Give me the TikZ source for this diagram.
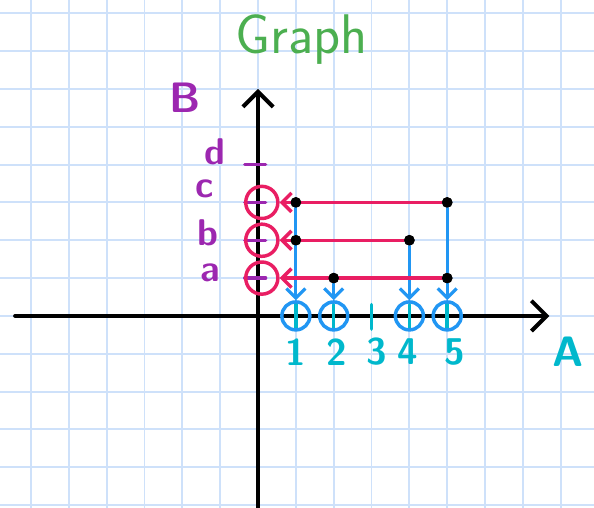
\documentclass[tikz,border=0pt]{standalone}
\usepackage{tikz}
\usetikzlibrary{arrows.meta}
\definecolor{gridblue}{RGB}{206,225,250}
\definecolor{penpurple}{RGB}{156,39,176}
\definecolor{penpink}{RGB}{233,30,99}
\definecolor{penblue}{RGB}{33,150,243}
\definecolor{pencyan}{RGB}{0,184,204}
\definecolor{pengreen}{RGB}{76,175,80}
\tikzset{
  gridline/.style={draw=gridblue, line width=1.4pt},
  axisline/.style={draw=black, line width=3pt, line cap=round,
                   -{Straight Barb[length=4mm,width=8mm]}},
  ytickmark/.style={draw=penpurple, line width=2.6pt, line cap=round},
  xtickmark/.style={draw=pencyan, line width=2.6pt, line cap=round},
  dot/.style={circle, fill=black, inner sep=0pt, minimum size=2.8mm},
  pinkring/.style={circle, draw=penpink, line width=2.6pt, minimum size=8.5mm, inner sep=0pt},
  bluering/.style={circle, draw=penblue, line width=2.6pt, minimum size=7.4mm, inner sep=0pt},
  pinkarr/.style={draw=penpink, line width=2.6pt, line cap=round,
                  -{Straight Barb[length=2.5mm,width=5mm]}},
  bluearr/.style={draw=penblue, line width=2.4pt, line cap=round,
                  -{Straight Barb[length=2.5mm,width=5mm]}},
  ylbl/.style={text=penpurple, font=\sffamily\bfseries\fontsize{28}{28}\selectfont, inner sep=0pt},
  xlbl/.style={text=pencyan, font=\sffamily\bfseries\fontsize{28}{28}\selectfont, inner sep=0pt},
}
\begin{document}
\begin{tikzpicture}
  \useasboundingbox (-6.82,-5.07) rectangle (8.88,8.35);
  \fill[white] (-6.82,-5.07) rectangle (8.88,8.35);
  \draw[gridline] (-6.82,-5.07) grid (8.88,8.35);

  \draw[axisline] (-6.42,0) -- (7.7,0);
  \draw[axisline] (0,-5.07) -- (0,6);
  \foreach \k in {1,...,4} \draw[ytickmark] (-0.35,\k) -- (0.2,\k);
  \foreach \k in {1,...,5} \draw[xtickmark] (\k,0.3) -- (\k,-0.35);

  \node[text=pengreen, font=\sffamily\fontsize{42}{42}\selectfont] (title) at (1.15,7.3) {Graph};
  \node[ylbl, font=\sffamily\bfseries\fontsize{32}{32}\selectfont] (bname) at (-1.94,5.76) {B};
  \node[ylbl] (ld) at (-1.14,4.33) {d};
  \node[ylbl] (lc) at (-1.4,3.35) {c};
  \node[ylbl] (lb) at (-1.32,2.2) {b};
  \node[ylbl] (la) at (-1.27,1.15) {a};
  \foreach \n/\x in {1/1,2/2.08,3/3.15,4/3.95,5/5.2}
    \node[xlbl] (n\n) at (\x,-0.95) {\n};
  \node[xlbl, font=\sffamily\bfseries\fontsize{32}{32}\selectfont] (aname) at (8.19,-0.95) {A};

  \node[pinkring] (yc) at (0.1,3) {};
  \node[pinkring] (yb) at (0.1,2) {};
  \node[pinkring] (ya) at (0.1,1) {};
  \node[bluering] (x1) at (1,0) {};
  \node[bluering] (x2) at (2,0) {};
  \node[bluering] (x4) at (4,0) {};
  \node[bluering] (x5) at (5,0) {};

  \node[dot] (p13) at (1,3) {};
  \node[dot] (p53) at (5,3) {};
  \node[dot] (p12) at (1,2) {};
  \node[dot] (p42) at (4,2) {};
  \node[dot] (p21) at (2,1) {};
  \node[dot] (p51) at (5,1) {};

  \draw[bluearr] (p13) -- (x1);
  \draw[bluearr] (p21) -- (x2);
  \draw[bluearr] (p42) -- (x4);
  \draw[bluearr] (p53) -- (x5);
  \draw[pinkarr] (p53) -- (yc);
  \draw[pinkarr] (p42) -- (yb);
  \draw[pinkarr] (p51) -- (ya);

  \foreach \p in {p13,p53,p12,p42,p21,p51} \node[dot] at (\p) {};
\end{tikzpicture}
\end{document}
